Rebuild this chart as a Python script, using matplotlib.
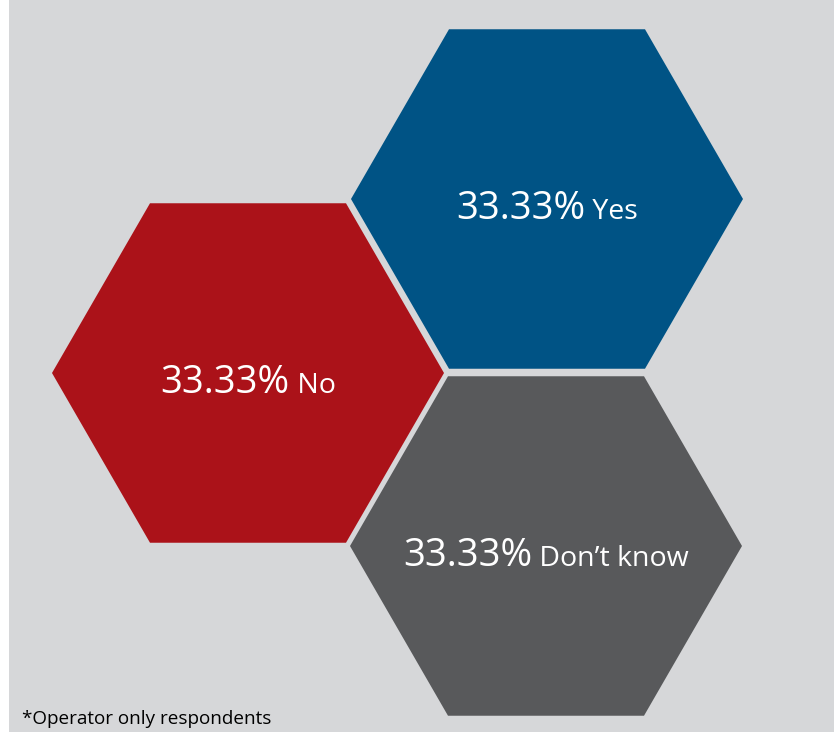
import matplotlib
matplotlib.use("Agg")
import matplotlib.pyplot as plt
from matplotlib.patches import RegularPolygon, Rectangle
import numpy as np

plt.rcParams['font.family'] = ['Open Sans', 'DejaVu Sans']

categories = ["Yes", "No", "Don\u2019t know"]
values = [33.33, 33.33, 33.33]
colors = ["#005385", "#ab1219", "#58595b"]
note = "*Operator only respondents"

# hexagon centres in pixel coordinates (layout only)
centers = [(547, 199), (248, 373), (546, 546)]
radius = 196

W, H = 834, 732
fig = plt.figure(figsize=(W / 100, H / 100), dpi=100, facecolor="white")
ax = fig.add_axes([0, 0, 1, 1])
ax.set_xlim(0, W)
ax.set_ylim(H, 0)
ax.axis("off")
ax.add_patch(Rectangle((9, 0), W - 9, H, facecolor="#d6d7d9", edgecolor="none"))

fig.canvas.draw()
renderer = fig.canvas.get_renderer()

for cat, val, col, (cx, cy) in zip(categories, values, colors, centers):
    hexagon = RegularPolygon((cx, cy), numVertices=6, radius=radius,
                             orientation=np.pi / 6, facecolor=col, edgecolor="none")
    ax.add_patch(hexagon)
    t1 = ax.text(0, cy + 20, f"{val:.2f}%", color="white", fontsize=27.5,
                 ha="left", va="baseline")
    t2 = ax.text(0, cy + 20, " " + cat, color="white", fontsize=20.5,
                 ha="left", va="baseline")
    w1 = t1.get_window_extent(renderer).width
    w2 = t2.get_window_extent(renderer).width
    x0 = cx - (w1 + w2) / 2
    t1.set_x(x0)
    t2.set_x(x0 + w1)

ax.text(22, 724, note, color="black", fontsize=13.6, ha="left", va="baseline")

fig.savefig("out.png", dpi=100, facecolor="white")
